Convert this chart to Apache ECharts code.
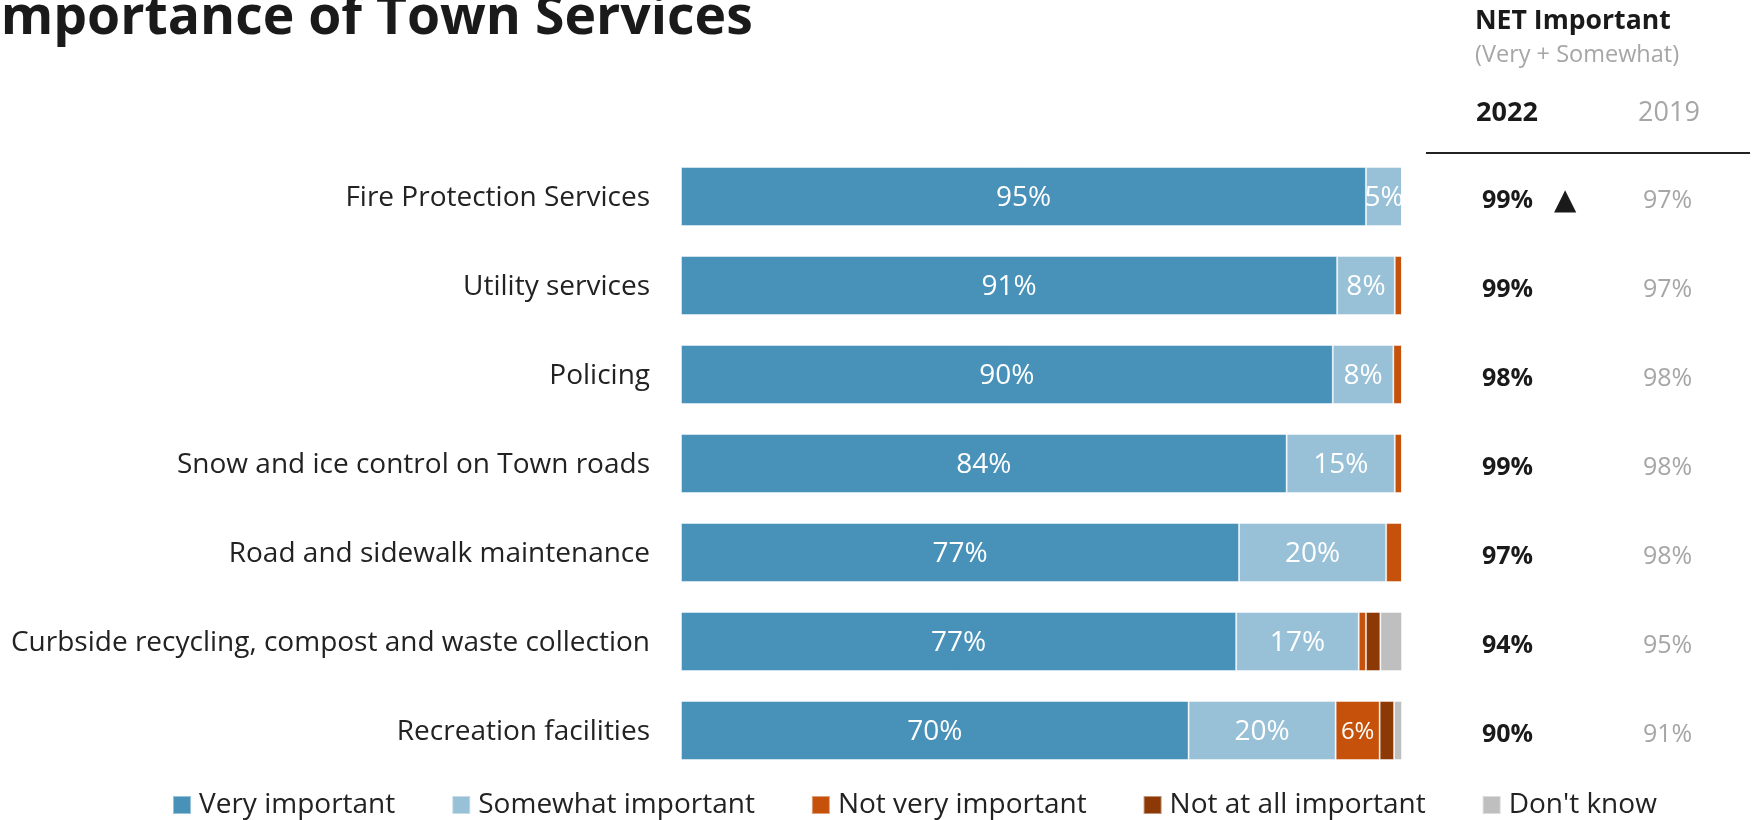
<!DOCTYPE html>
<html>
<head>
<meta charset="utf-8">
<script src="https://cdn.jsdelivr.net/npm/echarts@6/dist/echarts.min.js"></script>
<style>
  html, body { margin: 0; padding: 0; background: #fff; }
  #chart { width: 1752px; height: 820px; }
</style>
</head>
<body>
<div id="chart"></div>
<script>
const categories = [
  'Fire Protection Services',
  'Utility services',
  'Policing',
  'Snow and ice control on Town roads',
  'Road and sidewalk maintenance',
  'Curbside recycling, compost and waste collection',
  'Recreation facilities'
];
const seriesNames = ['Very important', 'Somewhat important', 'Not very important', 'Not at all important', "Don't know"];
const veryImportant     = [95, 91, 90.4, 84, 77.4, 77, 70.4];
const somewhatImportant = [5, 8, 8.4, 15, 20.4, 17, 20.4];
const notVeryImportant  = [0, 1, 1.2, 1, 2.2, 1, 6.1];
const notAtAllImportant = [0, 0, 0, 0, 0, 2, 2.0];
const dontKnow          = [0, 0, 0, 0, 0, 3, 1.1];
const net2022 = [99, 99, 98, 99, 97, 94, 90];
const net2019 = [97, 97, 98, 98, 98, 95, 91];
const sigUp   = [true, false, false, false, false, false, false];

const colors = ['#4891B9', '#98C1D7', '#C5510A', '#8C3906', '#BFBFBF'];
const FONT = '"Open Sans", sans-serif';

const seriesData = [veryImportant, somewhatImportant, notVeryImportant, notAtAllImportant, dontKnow];

const chart = echarts.init(document.getElementById('chart'));

const series = seriesData.map((d, i) => ({
  name: seriesNames[i],
  type: 'bar',
  stack: 'total',
  barWidth: 59,
  data: d,
  itemStyle: { color: colors[i], borderColor: 'rgba(255,255,255,0.45)', borderWidth: 1 },
  label: {
    show: i < 3,
    position: 'inside',
    color: '#fff',
    fontFamily: FONT,
    fontSize: i === 2 ? 24 : 28,
    offset: [0, 2],
    formatter: p => (p.value >= 5 ? Math.round(p.value) + '%' : '')
  },
  emphasis: { disabled: true }
}));

chart.setOption({
  animation: false,
  textStyle: { fontFamily: FONT },
  grid: { left: 681, right: 350, top: 152, height: 623, containLabel: false },
  xAxis: { type: 'value', min: 0, max: 100, show: false },
  yAxis: [
    {
      type: 'category',
      data: categories,
      inverse: true,
      axisLine: { show: false },
      axisTick: { show: false },
      axisLabel: {
        margin: 31,
        formatter: v => '{l|' + v + '}',
        rich: { l: { color: '#222', fontFamily: FONT, fontSize: 28, padding: [4, 0, 0, 0] } }
      }
    },
    {
      type: 'category',
      data: categories,
      inverse: true,
      position: 'right',
      axisLine: { show: false },
      axisTick: { show: false },
      axisLabel: {
        margin: 80,
        align: 'left',
        padding: [9, 0, 0, 0],
        formatter: (v, idx) => sigUp[idx]
          ? '{a|' + net2022[idx] + '%}{t|▲}{b|' + net2019[idx] + '%}'
          : '{a2|' + net2022[idx] + '%}{b|' + net2019[idx] + '%}',
        rich: {
          a:  { fontFamily: FONT, fontWeight: 'bold', fontSize: 25, color: '#1a1a1a', width: 72 },
          a2: { fontFamily: FONT, fontWeight: 'bold', fontSize: 25, color: '#1a1a1a', width: 161 },
          t:  { fontFamily: '"DejaVu Sans"', fontSize: 29, color: '#1a1a1a', width: 89 },
          b:  { fontFamily: FONT, fontSize: 25, color: '#a6a6a6' }
        }
      }
    }
  ],
  legend: {
    data: seriesNames,
    icon: 'rect',
    itemWidth: 18,
    itemHeight: 18,
    itemGap: 56,
    left: 167,
    top: 786,
    selectedMode: false,
    textStyle: { fontFamily: FONT, fontSize: 28, color: '#222', padding: [0, 0, 0, 3] }
  },
  graphic: [
    { type: 'text', left: -17, top: -8, style: { text: 'Importance of Town Services', font: 'bold 53.5px "Open Sans"', fill: '#1a1a1a' } },
    { type: 'text', x: 1475, y: 21, style: { text: 'NET Important', font: 'bold 26.6px "Open Sans"', fill: '#1a1a1a', verticalAlign: 'middle' } },
    { type: 'text', x: 1475, y: 55, style: { text: '(Very + Somewhat)', font: '23.5px "Open Sans"', fill: '#a6a6a6', verticalAlign: 'middle' } },
    { type: 'text', x: 1507, y: 113, style: { text: '2022', font: 'bold 27px "Open Sans"', fill: '#1a1a1a', align: 'center', verticalAlign: 'middle' } },
    { type: 'text', x: 1669, y: 113, style: { text: '2019', font: '27px "Open Sans"', fill: '#a6a6a6', align: 'center', verticalAlign: 'middle' } },
    { type: 'line', shape: { x1: 1426, y1: 153, x2: 1750, y2: 153 }, style: { stroke: '#222', lineWidth: 2 } }
  ],
  series: series
});
</script>
</body>
</html>
